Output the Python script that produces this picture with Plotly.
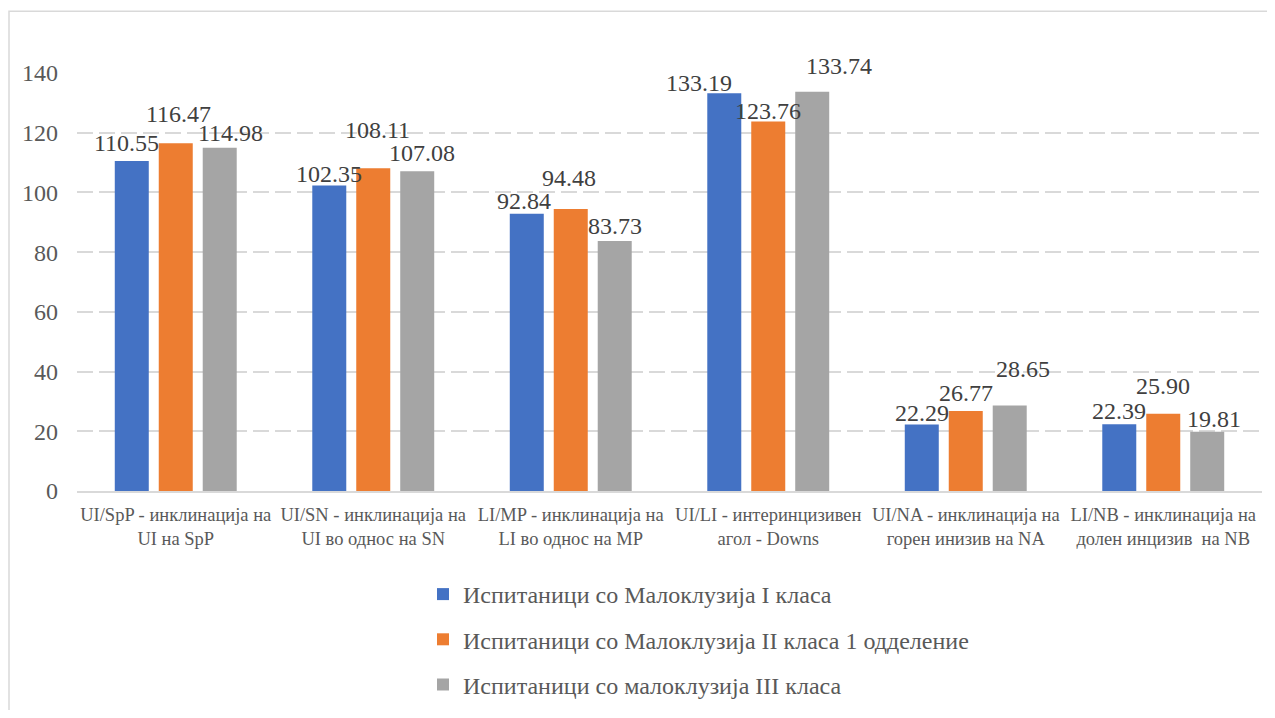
import plotly.graph_objects as go

categories = [
    "UI/SpP - инклинација на<br>UI на SpP",
    "UI/SN - инклинација на<br>UI во однос на SN",
    "LI/MP - инклинација на<br>LI во однос на MP",
    "UI/LI - интеринцизивен<br>агол - Downs",
    "UI/NA - инклинација на<br>горен инизив на NA",
    "LI/NB - инклинација на<br>долен инцизив  на NB",
]
series_names = [
    "Испитаници со Малоклузија I класа",
    "Испитаници со Малоклузија II класа 1 одделение",
    "Испитаници со малоклузија III класа",
]
class1 = [110.55, 102.35, 92.84, 133.19, 22.29, 22.39]
class2 = [116.47, 108.11, 94.48, 123.76, 26.77, 25.90]
class3 = [114.98, 107.08, 83.73, 133.74, 28.65, 19.81]
tick_vals = [0, 20, 40, 60, 80, 100, 120, 140]

colors = ["#4472C4", "#ED7D31", "#A5A5A5"]
series = [class1, class2, class3]
FONT = "Times New Roman, Liberation Serif, serif"

# label placement tweaks (pixels) mimicking the original label layout
label_dx = [[-5, 0, -3, -25, 0, 0], [3, 4, -2, 0, 0, 0], [11, 5, 0, 27, 13, 7]]
label_dy = [[5, -2, 0, -3, -2, 0], [16, 25, 18, -3, 5, 15], [2, 5, 2, 13, 23, 0]]
slot_px = 44

fig = go.Figure()
for name, vals, col in zip(series_names, series, colors):
    fig.add_trace(go.Bar(
        x=categories, y=vals, name=name,
        marker=dict(color=col, line=dict(width=0)),
        legendgroup=name,
    ))

annotations = []
for i, vals in enumerate(series):
    for j, v in enumerate(vals):
        annotations.append(dict(
            x=categories[j], y=v, xref="x", yref="y",
            text=f"{v:.2f}", showarrow=False,
            yanchor="bottom", xanchor="center",
            xshift=(i - 1) * slot_px + label_dx[i][j],
            yshift=label_dy[i][j] - 2,
            font=dict(family=FONT, size=24, color="#404040"),
        ))

# page has an 8px body margin; figure occupies (8,8)-(1267,710)
OFF = 8
W, H = 1259, 702
L, T = 77 - OFF, 73 - OFF
R = (OFF + W) - 1262
B = H - (492 - OFF)
pw, ph = W - L - R, H - T - B

fig.update_layout(
    width=W, height=H,
    margin=dict(l=L, r=R, t=T, b=B),
    paper_bgcolor="white", plot_bgcolor="white",
    barmode="group", bargap=0.332, bargroupgap=0.227,
    font=dict(family=FONT, color="#595959"),
    annotations=annotations,
    legend=dict(
        x=(423 - 77) / pw, y=(492 - 707) / ph, xanchor="left", yanchor="bottom",
        orientation="v", traceorder="grouped", tracegroupgap=11,
        font=dict(family=FONT, size=24, color="#595959"),
        bgcolor="rgba(0,0,0,0)",
    ),
    shapes=[dict(
        type="rect", xref="paper", yref="paper",
        x0=(9 - 77) / pw, x1=1.2, y0=-1.0, y1=(492 - 11) / ph,
        line=dict(color="#D9D9D9", width=1.5), fillcolor="rgba(0,0,0,0)",
        layer="below",
    )],
)
fig.update_yaxes(
    range=[0, 140], tickvals=tick_vals, showgrid=True,
    gridcolor="#D9D9D9", gridwidth=1.5, griddash="16px,6px",
    zeroline=False, showline=False, ticks="", ticklabelstandoff=18,
    tickfont=dict(family=FONT, size=24, color="#595959"),
)
fig.update_xaxes(
    showline=True, linecolor="#D9D9D9", linewidth=1.5,
    showgrid=False, ticks="", ticklabelstandoff=6,
    tickfont=dict(family=FONT, size=18.5, color="#595959"),
)

fig.write_html("out.html")
